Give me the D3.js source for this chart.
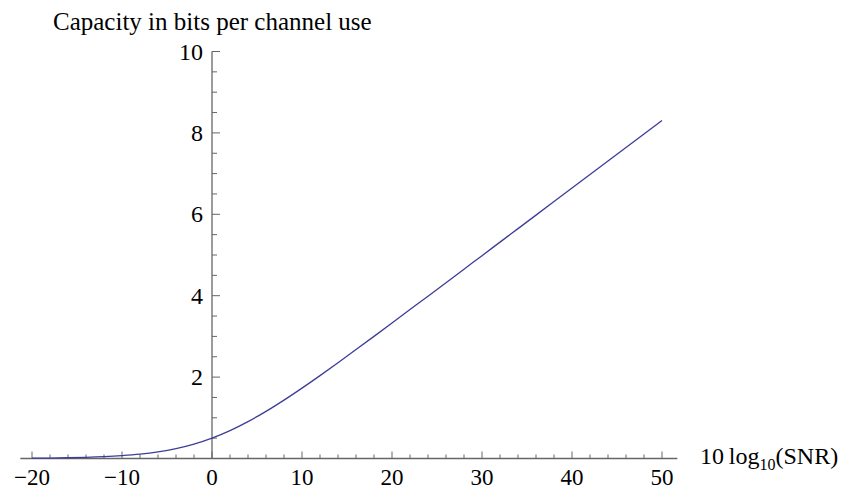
<!DOCTYPE html>
<head>
	<script src="https://d3js.org/d3.v7.min.js"></script>
	<style>
		body { margin: 0; background: #fff; }
		text { font-family: "Liberation Serif", "Times New Roman", serif; fill: #000; }
	</style>
</head>
<body>
<svg></svg>
<script>
	// SNR in dB and read-off capacity (bits per channel use)
	var snrDb = [-20, -18, -16, -14, -12, -10, -8, -6, -4, -2, 0, 2, 4, 6, 8, 10, 12, 14, 16, 18,
		20, 22, 24, 26, 28, 30, 32, 34, 36, 38, 40, 42, 44, 46, 48, 50];
	var capacity = [0.007, 0.011, 0.018, 0.028, 0.044, 0.069, 0.106, 0.162, 0.242, 0.353, 0.5,
		0.685, 0.906, 1.158, 1.435, 1.73, 2.037, 2.353, 2.676, 3.001, 3.329, 3.659, 3.989,
		4.32, 4.652, 4.983, 5.316, 5.648, 5.98, 6.312, 6.644, 6.976, 7.308, 7.64, 7.973, 8.305];
	var xTicks = [-20, -10, 0, 10, 20, 30, 40, 50];
	var yTicks = [2, 4, 6, 8, 10];

	var width = 845, height = 491;
	var svg = d3.select("svg").attr("width", width).attr("height", height);

	// 9 px per dB, 0 dB at x=212
	var x = d3.scaleLinear().domain([-20, 50]).range([32, 662]);
	var y = d3.scaleLinear().domain([0, 10]).range([458.5, 51.5]);

	var axisColor = "#666";

	// x axis line
	svg.append("line")
		.attr("x1", x(-21.3)).attr("x2", x(51.7))
		.attr("y1", y(0)).attr("y2", y(0))
		.attr("stroke", axisColor).attr("stroke-width", 1.3);

	// y axis line
	svg.append("line")
		.attr("x1", x(0)).attr("x2", x(0))
		.attr("y1", y(0)).attr("y2", y(10))
		.attr("stroke", axisColor).attr("stroke-width", 1.3);

	// x ticks (pointing up)
	var xMinor = d3.range(-20, 51, 2);
	svg.selectAll(".xt").data(xMinor).enter().append("line")
		.attr("x1", function(d) { return x(d); })
		.attr("x2", function(d) { return x(d); })
		.attr("y1", y(0))
		.attr("y2", function(d) { return y(0) - (d % 10 === 0 ? 7 : 4); })
		.attr("stroke", axisColor).attr("stroke-width", 1);

	// y ticks (pointing right)
	var yMinor = d3.range(0.5, 10.01, 0.5);
	svg.selectAll(".yt").data(yMinor).enter().append("line")
		.attr("x1", x(0))
		.attr("x2", function(d) { return x(0) + (d % 2 === 0 ? 8 : 5); })
		.attr("y1", function(d) { return y(d); })
		.attr("y2", function(d) { return y(d); })
		.attr("stroke", axisColor).attr("stroke-width", 1);

	// x tick labels
	svg.selectAll(".xl").data(xTicks).enter().append("text")
		.attr("x", function(d) { return x(d); })
		.attr("y", 485)
		.attr("text-anchor", "middle")
		.style("font-size", "23px")
		.text(function(d) { return d < 0 ? "\u2212" + Math.abs(d) : d; });

	// y tick labels
	svg.selectAll(".yl").data(yTicks).enter().append("text")
		.attr("x", x(0) - 9)
		.attr("y", function(d) { return y(d) + 8; })
		.attr("text-anchor", "end")
		.style("font-size", "24px")
		.text(function(d) { return d; });

	// curve
	var data = snrDb.map(function(d, i) { return { s: d, c: capacity[i] }; });
	var line = d3.line()
		.x(function(d) { return x(d.s); })
		.y(function(d) { return y(d.c); })
		.curve(d3.curveMonotoneX);
	svg.append("path").datum(data)
		.attr("d", line)
		.attr("fill", "none")
		.attr("stroke", "#3d3d99")
		.attr("stroke-width", 1.3);

	// axis labels
	svg.append("text")
		.attr("x", 53).attr("y", 30)
		.style("font-size", "25px")
		.text("Capacity in bits per channel use");

	var xl = svg.append("text")
		.attr("x", 700).attr("y", 464)
		.style("font-size", "24px");
	xl.append("tspan").text("10\u2009log");
	xl.append("tspan").attr("dy", 6).style("font-size", "16px").text("10");
	xl.append("tspan").attr("dy", -6).text("(SNR)");
</script>
</body>
</html>
